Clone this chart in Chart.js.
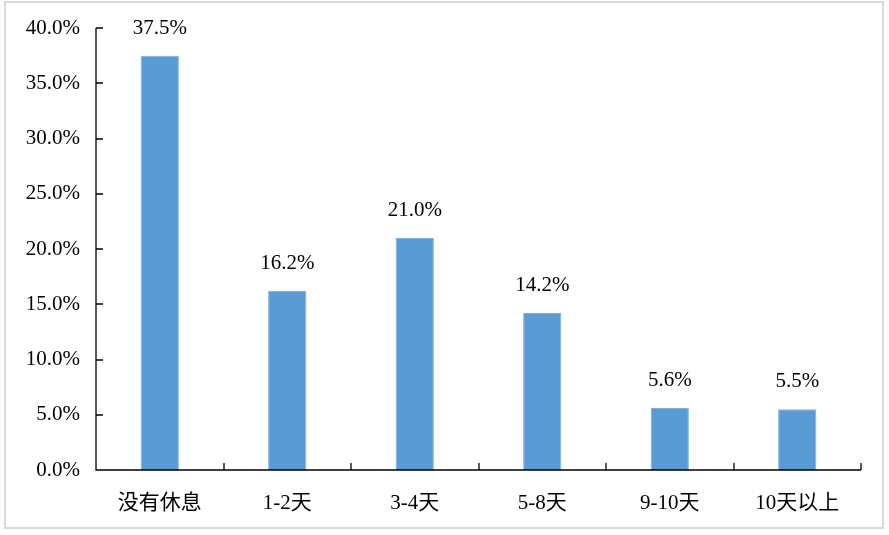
<!DOCTYPE html>
<html><head><meta charset="utf-8">
<script src="https://cdn.jsdelivr.net/npm/chart.js@4/dist/chart.umd.min.js"></script>
<style>html,body{margin:0;padding:0;background:#fff;}#wrap{width:889px;height:535px;position:relative;}</style>
</head><body><div id="wrap"><canvas id="c" width="889" height="535"></canvas></div>
<script>
const categories = ["没有休息","1-2天","3-4天","5-8天","9-10天","10天以上"];
const values = [37.5, 16.2, 21.0, 14.2, 5.6, 5.5];
const yTicks = [0,5,10,15,20,25,30,35,40];
const FONT = "'Liberation Serif','Times New Roman','Noto Sans CJK SC',serif";

const decor = {
  id:'decor',
  beforeDraw(chart){
    const ctx = chart.ctx;
    ctx.save();
    ctx.strokeStyle = '#d9d9d9'; ctx.lineWidth = 2;
    ctx.strokeRect(5, 2, 878, 526);
    ctx.restore();
  },
  afterDatasetsDraw(chart){
    const ctx = chart.ctx, x = chart.scales.x, y = chart.scales.y, a = chart.chartArea;
    ctx.save();
    ctx.strokeStyle = '#000'; ctx.lineWidth = 1.3;
    ctx.beginPath();
    ctx.moveTo(a.left, a.top); ctx.lineTo(a.left, a.bottom); ctx.lineTo(a.right, a.bottom);
    yTicks.forEach(v=>{ const py = Math.round(y.getPixelForValue(v)); ctx.moveTo(a.left, py); ctx.lineTo(a.left+7, py); });
    const n = categories.length;
    for(let i=0;i<=n;i++){
      let px;
      if(i===0) px = a.left; else if(i===n) px = a.right;
      else px = (x.getPixelForValue(i-1)+x.getPixelForValue(i))/2;
      px = Math.round(px);
      ctx.moveTo(px, a.bottom); ctx.lineTo(px, a.bottom-7);
    }
    ctx.stroke();
    ctx.fillStyle = '#000';
    ctx.font = "21px " + FONT;
    ctx.textAlign = 'center'; ctx.textBaseline = 'bottom';
    const meta = chart.getDatasetMeta(0);
    meta.data.forEach((bar,i)=>{ ctx.fillText(values[i].toFixed(1)+'%', bar.x, bar.y-17); });
    ctx.restore();
  }
};

new Chart(document.getElementById('c'), {
  type:'bar',
  data:{ labels:categories, datasets:[{ data:values, backgroundColor:'#5B9BD5', borderColor:'#7FB0DE', borderWidth:1, categoryPercentage:1, barPercentage:0.3 }]},
  options:{
    responsive:false, animation:false, devicePixelRatio:1,
    layout:{ padding:{ left:0, right:28, top:28, bottom:0 } },
    plugins:{ legend:{display:false}, tooltip:{enabled:false} },
    scales:{
      y:{ min:0, max:40, afterFit(s){ s.width = 96; },
          afterBuildTicks(s){ s.ticks = yTicks.map(v=>({value:v})); },
          grid:{ display:false }, border:{ display:false },
          ticks:{ padding:8, color:'#000', font:{ family:FONT, size:21 }, callback:v=>v.toFixed(1)+'%' } },
      x:{ afterFit(s){ s.height = 65; },
          grid:{ display:false }, border:{ display:false },
          ticks:{ padding:13, color:'#000', font:{ family:FONT, size:21 }, maxRotation:0 } }
    }
  },
  plugins:[decor]
});
</script></body></html>
